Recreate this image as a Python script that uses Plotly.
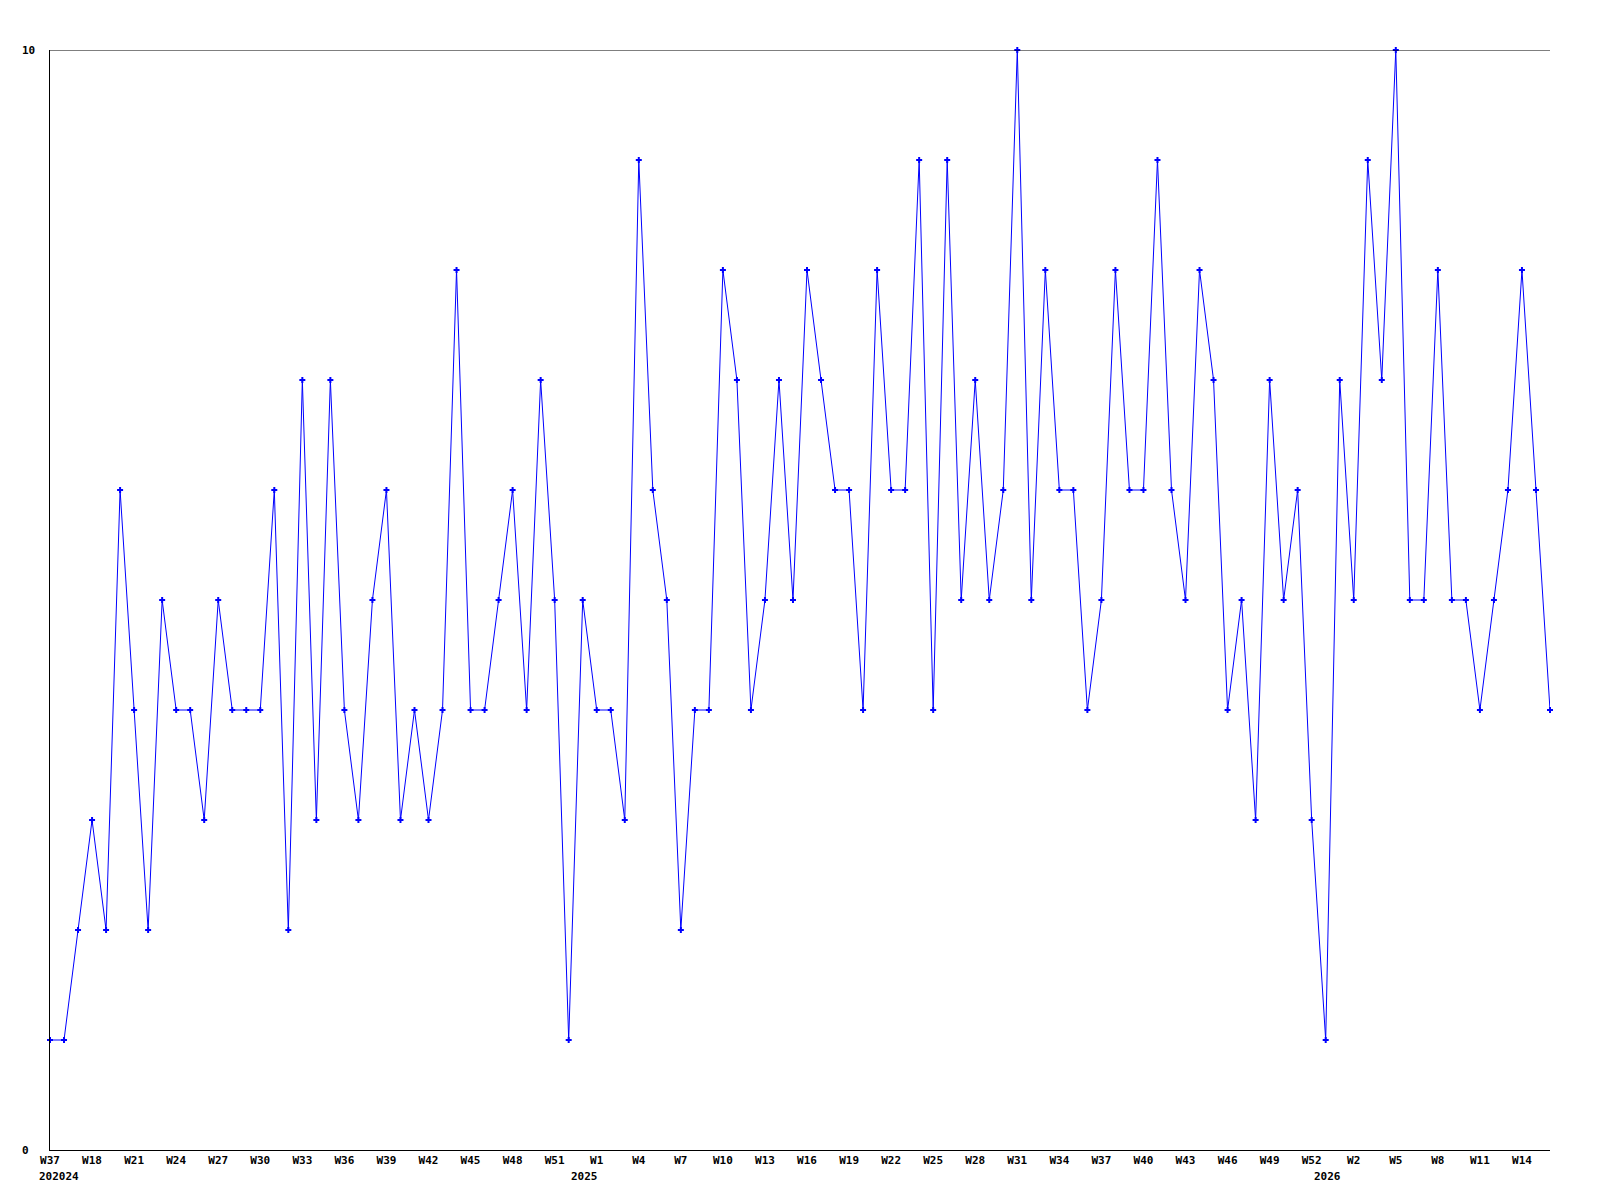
import plotly.graph_objects as go

# weekly counts, one point per week
values = [1, 1, 2, 3, 2, 6, 4, 2, 5, 4,
          4, 3, 5, 4, 4, 4, 6, 2, 7, 3,
          7, 4, 3, 5, 6, 3, 4, 3, 4, 8,
          4, 4, 5, 6, 4, 7, 5, 1, 5, 4,
          4, 3, 9, 6, 5, 2, 4, 4, 8, 7,
          4, 5, 7, 5, 8, 7, 6, 6, 4, 8,
          6, 6, 9, 4, 9, 5, 7, 5, 6, 10,
          5, 8, 6, 6, 4, 5, 8, 6, 6, 9,
          6, 5, 8, 7, 4, 5, 3, 7, 5, 6,
          3, 1, 7, 5, 9, 7, 10, 5, 5, 8,
          5, 5, 4, 5, 6, 8, 6, 4]

tick_pos = list(range(0, 106, 3))
tick_text = ["W37", "W18", "W21", "W24", "W27", "W30", "W33", "W36", "W39", "W42",
             "W45", "W48", "W51", "W1", "W4", "W7", "W10", "W13", "W16", "W19",
             "W22", "W25", "W28", "W31", "W34", "W37", "W40", "W43", "W46", "W49",
             "W52", "W2", "W5", "W8", "W11", "W14"]

year_pos = [2, 39, 92]
year_text = ["202024", "2025", "2026"]

y_labels = ["0", "10"]
y_vals = [0, 10]

font = dict(family="DejaVu Sans Mono", size=11, color="black", weight="bold")

fig = go.Figure()
fig.add_trace(go.Scatter(
    x=list(range(len(values))), y=values, mode="lines+markers",
    line=dict(color="#0000ff", width=1),
    marker=dict(symbol="cross", size=5, color="#0000ff", line=dict(width=0)),
    cliponaxis=False, showlegend=False,
))

# line along the top of the plot at the max value
fig.add_shape(type="line", xref="paper", x0=0, x1=1, yref="y", y0=10, y1=10,
              line=dict(color="black", width=1))

for p, t in zip(year_pos, year_text):
    fig.add_annotation(x=p, y=-0.0245, xref="x", yref="paper", text=t,
                       showarrow=False, xanchor="right", yanchor="middle",
                       xshift=3, font=font)

for v, t in zip(y_vals, y_labels):
    fig.add_annotation(x=-0.02, y=v, xref="paper", yref="y", text=t,
                       showarrow=False, xanchor="left", yanchor="middle",
                       font=font)

fig.update_layout(
    width=1584, height=1184,
    margin=dict(l=42, r=42, t=42, b=42),
    plot_bgcolor="white", paper_bgcolor="white",
    xaxis=dict(range=[0, len(values) - 1], tickvals=tick_pos, ticktext=tick_text,
               showgrid=False, zeroline=False, showline=True, linecolor="black",
               linewidth=1, ticks="", tickfont=font, tickangle=0),
    yaxis=dict(range=[0, 10], showgrid=False, zeroline=False, showline=True,
               linecolor="black", linewidth=1, showticklabels=False, ticks=""),
)

fig.write_html("out.html")
